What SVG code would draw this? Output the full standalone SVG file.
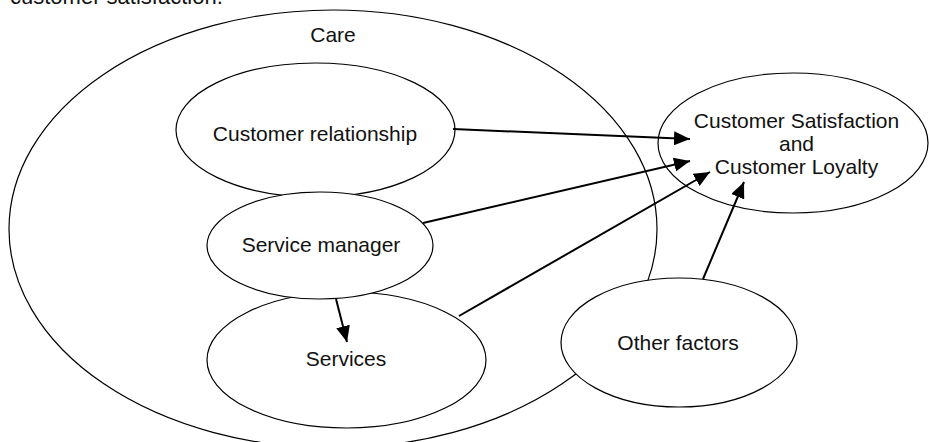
<svg xmlns="http://www.w3.org/2000/svg" width="929" height="442" viewBox="0 0 929 442">
<style>
.n{fill:#fff;stroke:#000;stroke-width:1.2}
.o{fill:none;stroke:#000;stroke-width:1.2}
.t{font-family:"Liberation Sans",Arial,sans-serif;font-size:21px;fill:#111;text-anchor:middle}
.c{stroke:#000;stroke-width:2;fill:none}
</style>
<defs>
<marker id="ah" markerUnits="userSpaceOnUse" markerWidth="16" markerHeight="14" refX="16" refY="7" orient="auto">
<path d="M0,0 L16,7 L0,14 Z" fill="#000"/>
</marker>
</defs>
<rect width="929" height="442" fill="#fff"/>
<text x="10" y="4" style="font-family:'Liberation Sans',Arial,sans-serif;font-size:22px;fill:#111">customer satisfaction.</text>
<g id="care">
<ellipse class="o" cx="333" cy="229" rx="324" ry="219"/>
<text class="t" x="333" y="42">Care</text>
</g>
<g id="customer-relationship">
<ellipse class="n" cx="315.5" cy="130" rx="139.5" ry="67"/>
<text class="t" x="315" y="141">Customer relationship</text>
</g>
<g id="services">
<ellipse class="n" cx="346.5" cy="360" rx="139.5" ry="68"/>
<text class="t" x="346" y="366">Services</text>
</g>
<g id="service-manager">
<ellipse class="n" cx="320" cy="245.5" rx="113" ry="53.5"/>
<text class="t" x="321" y="252">Service manager</text>
</g>
<g id="other-factors">
<ellipse class="n" cx="679" cy="342.5" rx="118" ry="64.5"/>
<text class="t" x="678" y="350">Other factors</text>
</g>
<g id="customer-satisfaction">
<ellipse class="n" cx="793" cy="143" rx="135" ry="70"/>
<text class="t" x="796.5" y="128">Customer Satisfaction</text>
<text class="t" x="796.5" y="151">and</text>
<text class="t" x="796.5" y="174">Customer Loyalty</text>
</g>
<g id="connectors">
<line class="c" x1="453" y1="129" x2="690" y2="139" marker-end="url(#ah)"/>
<line class="c" x1="423" y1="223" x2="690" y2="161" marker-end="url(#ah)"/>
<line class="c" x1="459" y1="316" x2="710" y2="172" marker-end="url(#ah)"/>
<line class="c" x1="703" y1="279" x2="744" y2="182" marker-end="url(#ah)"/>
<line class="c" x1="336" y1="299" x2="347" y2="342" marker-end="url(#ah)"/>
</g>
</svg>
